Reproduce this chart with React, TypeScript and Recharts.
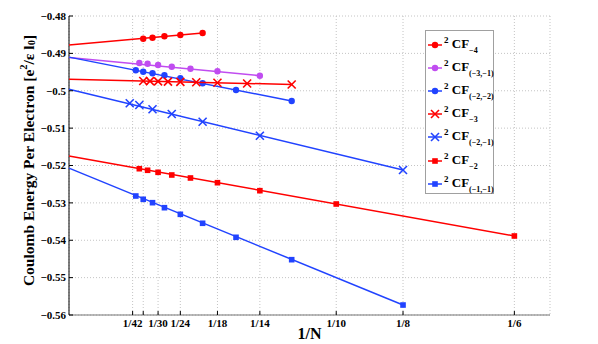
import React from "react";
import { ScatterChart, Scatter, XAxis, YAxis, CartesianGrid, Legend } from "recharts";

// axis ticks
const xTicks = [1 / 42, 1 / 36, 1 / 30, 1 / 24, 1 / 18, 1 / 14, 1 / 10, 1 / 8, 1 / 6];
const xTickLabels = ["1/42", "", "1/30", "1/24", "1/18", "1/14", "1/10", "1/8", "1/6"];
const yTicks = [-0.56, -0.55, -0.54, -0.53, -0.52, -0.51, -0.5, -0.49, -0.48];

// 2CF_-4
const cfM4N = [36, 32, 28, 24, 20];
const cfM4E = [-0.48607, -0.48581, -0.48543, -0.48508, -0.48455];
const cfM4E0 = -0.48776;

// 2CF_(-3,-1)
const cfM31N = [38, 34, 30, 26, 22, 18, 14];
const cfM31E = [-0.49258, -0.49276, -0.49311, -0.49357, -0.4941, -0.4948, -0.49597];
const cfM31E0 = -0.4911;

// 2CF_(-2,-2)
const cfM22N = [40, 36, 32, 28, 24, 20, 16, 12];
const cfM22E = [-0.49453, -0.4949, -0.49533, -0.49587, -0.49667, -0.49801, -0.4998, -0.50274];
const cfM22E0 = -0.491;

// 2CF_-3
const cfM3N = [36, 33, 30, 27, 24, 21, 18, 15, 12];
const cfM3E = [-0.49739, -0.49744, -0.4975, -0.49755, -0.49763, -0.49774, -0.49787, -0.49806, -0.49833];
const cfM3E0 = -0.4969;

// 2CF_(-2,-1)
const cfM21N = [44, 38, 32, 26, 20, 14, 8];
const cfM21E = [-0.50336, -0.50381, -0.50496, -0.50622, -0.50828, -0.51203, -0.5212];
const cfM21E0 = -0.4996;

// 2CF_-2
const cfM2N = [38, 34, 30, 26, 22, 18, 14, 10, 6];
const cfM2E = [-0.52086, -0.52128, -0.52182, -0.52254, -0.52334, -0.5246, -0.52674, -0.5303, -0.53886];
const cfM2E0 = -0.51746;

// 2CF_(-1,-1)
const cfM11N = [40, 36, 32, 28, 24, 20, 16, 12, 8];
const cfM11E = [-0.52816, -0.52904, -0.52995, -0.53129, -0.53306, -0.53546, -0.53921, -0.5452, -0.55733];
const cfM11E0 = -0.5207;

const RED = "#ff0000";
const PURPLE = "#c04cf0";
const BLUE = "#2143ff";
const FONT = "'Liberation Serif', 'Times New Roman', serif";

type Kind = "circle" | "square" | "x";

const series: { key: string; sub: string; color: string; kind: Kind; n: number[]; e: number[]; e0: number }[] = [
  { key: "m4", sub: "\u22124", color: RED, kind: "circle", n: cfM4N, e: cfM4E, e0: cfM4E0 },
  { key: "m31", sub: "(\u22123,\u22121)", color: PURPLE, kind: "circle", n: cfM31N, e: cfM31E, e0: cfM31E0 },
  { key: "m22", sub: "(\u22122,\u22122)", color: BLUE, kind: "circle", n: cfM22N, e: cfM22E, e0: cfM22E0 },
  { key: "m3", sub: "\u22123", color: RED, kind: "x", n: cfM3N, e: cfM3E, e0: cfM3E0 },
  { key: "m21", sub: "(\u22122,\u22121)", color: BLUE, kind: "x", n: cfM21N, e: cfM21E, e0: cfM21E0 },
  { key: "m2", sub: "\u22122", color: RED, kind: "square", n: cfM2N, e: cfM2E, e0: cfM2E0 },
  { key: "m11", sub: "(\u22121,\u22121)", color: BLUE, kind: "square", n: cfM11N, e: cfM11E, e0: cfM11E0 },
];

function Marker({ kind, cx, cy, color }: { kind: Kind; cx: number; cy: number; color: string }) {
  if (kind === "circle") return <circle cx={cx} cy={cy} r={3.2} fill={color} />;
  if (kind === "square") return <rect x={cx - 2.8} y={cy - 2.8} width={5.6} height={5.6} fill={color} />;
  return (
    <g stroke={color} strokeWidth={1.6}>
      <line x1={cx - 4} y1={cy - 4} x2={cx + 4} y2={cy + 4} />
      <line x1={cx - 4} y1={cy + 4} x2={cx + 4} y2={cy - 4} />
    </g>
  );
}

const fmt = (v: number) => String(v).replace("-", "\u2212");

function BottomTick(props: any) {
  const { x, y, index } = props;
  const axisY = y - 3;
  return (
    <g>
      <line x1={x} x2={x} y1={axisY} y2={axisY - 4} stroke="#000" />
      <text x={x} y={y + 9} textAnchor="middle" fontFamily={FONT} fontWeight="bold" fontSize={11} fill="#000">
        {xTickLabels[index]}
      </text>
    </g>
  );
}

function TopTick(props: any) {
  const { x, y } = props;
  return <line x1={x} x2={x} y1={y} y2={y + 4} stroke="#000" />;
}

function LeftTick(props: any) {
  const { x, y, payload } = props;
  const axisX = x + 3;
  return (
    <g>
      <line x1={axisX} x2={axisX + 4} y1={y} y2={y} stroke="#000" />
      <text x={x} y={y} dy="0.35em" textAnchor="end" fontFamily={FONT} fontWeight="bold" fontSize={11} fill="#000">
        {fmt(payload.value)}
      </text>
    </g>
  );
}

function RightTick(props: any) {
  const { x, y } = props;
  return <line x1={x} x2={x - 4} y1={y} y2={y} stroke="#000" />;
}

function YLabel(props: any) {
  const vb = props.viewBox || { x: 0, y: 16, width: 69, height: 299 };
  const cy = vb.y + vb.height / 2 - 5;
  return (
    <text
      transform={`translate(28,${cy}) rotate(-90)`}
      textAnchor="middle"
      dominantBaseline="central"
      fontFamily={FONT}
      fontWeight="bold"
      fontSize={15.5}
      fill="#000"
    >
      Coulomb Energy Per Electron [e
      <tspan dy={-5} fontSize={10.5}>2</tspan>
      <tspan dy={5}>/ε l</tspan>
      <tspan dy={3} fontSize={10.5}>0</tspan>
      <tspan dy={-3}>]</tspan>
    </text>
  );
}

function LegendBox() {
  return (
    <div
      style={{
        border: "1px solid #a0a0a0",
        background: "#fff",
        width: 69,
        height: 164,
        boxSizing: "border-box",
        paddingTop: 2,
      }}
    >
      {series.map((s) => (
        <div key={s.key} style={{ height: 23.2, display: "flex", alignItems: "center" }}>
          <svg width={14} height={10} style={{ marginLeft: 2, overflow: "visible" }}>
            <line x1={0} x2={14} y1={5} y2={5} stroke={s.color} strokeWidth={1.5} />
            <Marker kind={s.kind} cx={7} cy={5} color={s.color} />
          </svg>
          <span
            style={{
              fontFamily: FONT,
              fontWeight: "bold",
              fontSize: 13,
              color: "#000",
              marginLeft: 2,
              whiteSpace: "nowrap",
              lineHeight: "12px",
            }}
          >
            <span style={{ fontSize: 9, position: "relative", top: -5 }}>2</span> CF
            <span style={{ fontSize: 8, position: "relative", top: 5 }}>{s.sub}</span>
          </span>
        </div>
      ))}
    </div>
  );
}

export default function App() {
  return (
    <div style={{ position: "absolute", left: 0, top: 0, width: 598, height: 344, background: "#fff" }}>
      <ScatterChart width={598} height={344} margin={{ top: 16, right: 48, bottom: 0, left: 0 }}>
        <CartesianGrid stroke="#c4c4c4" strokeDasharray="1 2" />
        <XAxis
          type="number"
          dataKey="x"
          domain={[0, 0.18]}
          ticks={xTicks}
          interval={0}
          height={29}
          tickLine={false}
          tickSize={0}
          tickMargin={3}
          tick={<BottomTick />}
          axisLine={{ stroke: "#777", strokeWidth: 1.2 }}
          label={{
            value: "1/N",
            position: "insideBottom",
            offset: 5,
            style: { fontFamily: FONT, fontWeight: "bold", fontSize: 16, fill: "#000" },
          }}
        />
        <XAxis
          xAxisId="top"
          orientation="top"
          type="number"
          domain={[0, 0.18]}
          ticks={xTicks}
          interval={0}
          height={0}
          tickLine={false}
          tickSize={0}
          tickMargin={0}
          tick={<TopTick />}
          axisLine={{ stroke: "#000" }}
        />
        <YAxis
          type="number"
          dataKey="y"
          domain={[-0.56, -0.48]}
          ticks={yTicks}
          interval={0}
          width={69}
          tickLine={false}
          tickSize={0}
          tickMargin={3}
          tick={<LeftTick />}
          axisLine={{ stroke: "#000" }}
          label={<YLabel />}
        />
        <YAxis
          yAxisId="right"
          orientation="right"
          type="number"
          domain={[-0.56, -0.48]}
          ticks={yTicks}
          interval={0}
          width={0}
          tickLine={false}
          tickSize={0}
          tickMargin={0}
          tick={<RightTick />}
          axisLine={{ stroke: "#000" }}
        />
        {series.map((s) => {
          const pts = s.n.map((N, i) => ({ x: 1 / N, y: s.e[i] }));
          const last = pts[pts.length - 1];
          const fit = [{ x: 0, y: s.e0 }, last];
          return (
            <React.Fragment key={s.key}>
              <Scatter
                name={s.key + "-fit"}
                data={fit}
                line={{ stroke: s.color, strokeWidth: 1.5 }}
                shape={() => <g />}
                legendType="none"
                isAnimationActive={false}
              />
              <Scatter
                name={s.key}
                data={pts}
                shape={(p: any) => <Marker kind={s.kind} cx={p.cx} cy={p.cy} color={s.color} />}
                isAnimationActive={false}
              />
            </React.Fragment>
          );
        })}
        <Legend
          layout="vertical"
          align="center"
          verticalAlign="middle"
          wrapperStyle={{ position: "absolute", left: 425, top: 30, width: 69, height: 164 }}
          content={() => <LegendBox />}
        />
      </ScatterChart>
    </div>
  );
}
